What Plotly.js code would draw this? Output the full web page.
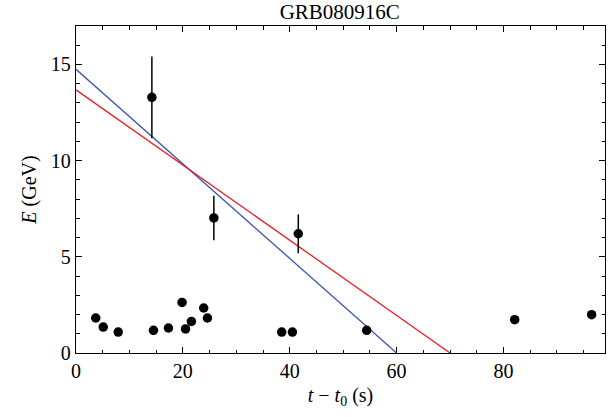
<!DOCTYPE html>
<html>
<head>
<meta charset="utf-8">
<script src="https://cdn.plot.ly/plotly-3.0.1.min.js"></script>
<style>html,body{margin:0;padding:0;background:#fff}#chart{width:610px;height:417px}</style>
</head>
<body>
<div id="chart"></div>
<script>
// Data
const times = [3.7, 5.1, 7.9, 14.2, 14.5, 17.3, 19.85, 20.5, 21.6, 23.9, 24.6, 25.8, 38.5, 40.5, 41.6, 54.4, 82.1, 96.5];
const energies = [1.82, 1.35, 1.09, 13.29, 1.18, 1.30, 2.63, 1.25, 1.64, 2.34, 1.82, 7.02, 1.09, 1.09, 6.2, 1.18, 1.73, 1.99];
const errors = [0, 0, 0, 2.12, 0, 0, 0, 0, 0, 0, 0, 1.16, 0, 0, 1.01, 0, 0, 0];
const blueFitT = [0, 60];
const blueFitE = [14.75, 0];
const redFitT = [0, 70];
const redFitE = [13.68, 0];
const titleText = "GRB080916C";

const traces = [
  {x: blueFitT, y: blueFitE, mode: 'lines', line: {color: '#3a55a8', width: 1.3}, hoverinfo: 'skip'},
  {x: redFitT, y: redFitE, mode: 'lines', line: {color: '#ee1c24', width: 1.3}, hoverinfo: 'skip'},
  {x: times, y: energies, mode: 'markers', marker: {color: '#000', size: 9.5},
   error_y: {type: 'data', array: errors, visible: true, color: '#000', thickness: 1.5, width: 0}}
];

const fam = '"Liberation Serif", "DejaVu Serif", serif';
function f(s) { return {family: fam, size: s, color: '#000'}; }

const layout = {
  width: 610, height: 417,
  margin: {l: 75.5, r: 5, t: 26, b: 64},
  paper_bgcolor: '#fff', plot_bgcolor: '#fff',
  showlegend: false,
  font: f(20),
  title: {text: titleText, font: f(21), x: 0.557, xanchor: 'center', y: 0.99, yanchor: 'top'},
  xaxis: {
    range: [0, 99], tick0: 0, dtick: 20, ticks: 'inside', ticklen: 6, tickwidth: 1, tickcolor: '#000',
    minor: {dtick: 5, ticks: 'inside', ticklen: 3.5, tickcolor: '#000'},
    showline: true, linecolor: '#000', linewidth: 1.3, mirror: 'ticks',
    showgrid: false, zeroline: false, tickfont: f(20),
    title: {text: '<i>t</i> − <i>t</i><sub>0</sub> (s)', font: f(20), standoff: 6}
  },
  yaxis: {
    range: [0, 17], tick0: 0, dtick: 5, ticks: 'inside', ticklen: 6, tickwidth: 1, tickcolor: '#000',
    minor: {dtick: 1, ticks: 'inside', ticklen: 3.5, tickcolor: '#000'},
    showline: true, linecolor: '#000', linewidth: 1.3, mirror: 'ticks',
    showgrid: false, zeroline: false, tickfont: f(20),
    title: {text: '<i>E</i> (GeV)', font: f(20), standoff: 8}
  }
};

Plotly.newPlot('chart', traces, layout, {staticPlot: true, displayModeBar: false});
</script>
</body>
</html>
